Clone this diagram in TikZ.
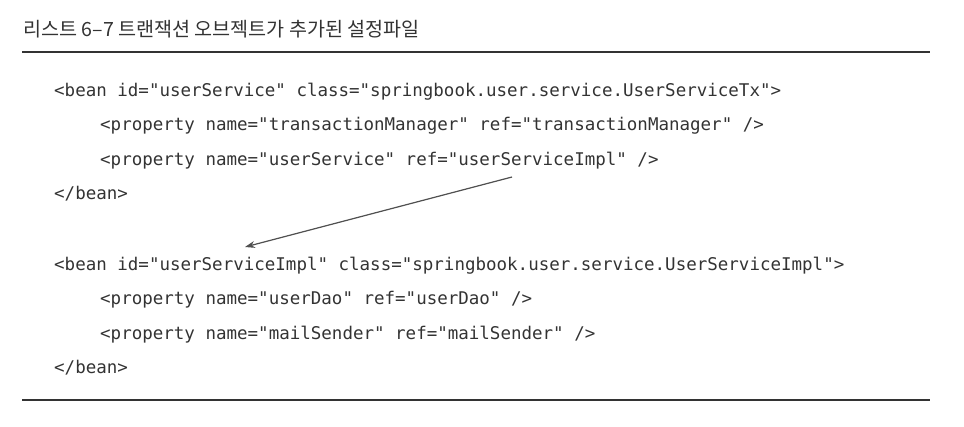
\documentclass[tikz,border=0pt]{standalone}
\usepackage{fontspec}
\setmonofont{DejaVu Sans Mono}
\newfontfamily\krfont{Noto Sans CJK KR}
\usetikzlibrary{positioning,arrows.meta}
\definecolor{inkgray}{HTML}{333333}
\definecolor{arrowgray}{HTML}{505050}

\begin{document}
\begin{tikzpicture}[x=1pt,y=-1pt,node distance=34.5pt,on grid,
	code/.style={anchor=base west, inner sep=0pt, text=inkgray, font=\ttfamily\fontsize{17.5}{20}\selectfont},
	caption/.style={anchor=base west, inner sep=0pt, text=inkgray, font=\krfont\fontsize{19.6}{22}\selectfont},
	rule/.style={draw=inkgray, line width=2.4pt}]
		\useasboundingbox (0,0) rectangle (964,426);
		\node[caption] (title) at (23,36) {리스트 6–7 트랜잭션 오브젝트가 추가된 설정파일};
		\draw[rule] (22,52) -- (930,52);
		\node[code] (b1) at (54,96) {<bean id="userService" class="springbook.user.service.UserServiceTx">};
		\node[below right=34.5pt and 46pt of b1.base west, code] (p1) {<property name="transactionManager" ref="transactionManager" />};
		\node[below=of p1.base west, code] (p2) {<property name="userService" ref="userServiceImpl" />};
		\node[below left=34.5pt and 46pt of p2.base west, code] (e1) {</bean>};
		\node[below=70.5pt of e1.base west, code] (b2) {<bean id="userServiceImpl" class="springbook.user.service.UserServiceImpl">};
		\node[below right=34.5pt and 46pt of b2.base west, code] (p3) {<property name="userDao" ref="userDao" />};
		\node[below=of p3.base west, code] (p4) {<property name="mailSender" ref="mailSender" />};
		\node[below left=34.5pt and 46pt of p4.base west, code] (e2) {</bean>};
		\draw[rule] (22,400) -- (930,400);
		\coordinate (refend) at (512,177);
		\coordinate (idhead) at (245,247);
		\draw[-{Stealth[length=10pt,width=7pt]}, draw=arrowgray, fill=arrowgray, line width=1.2pt] (refend) -- (idhead);
	\end{tikzpicture}
\end{document}
